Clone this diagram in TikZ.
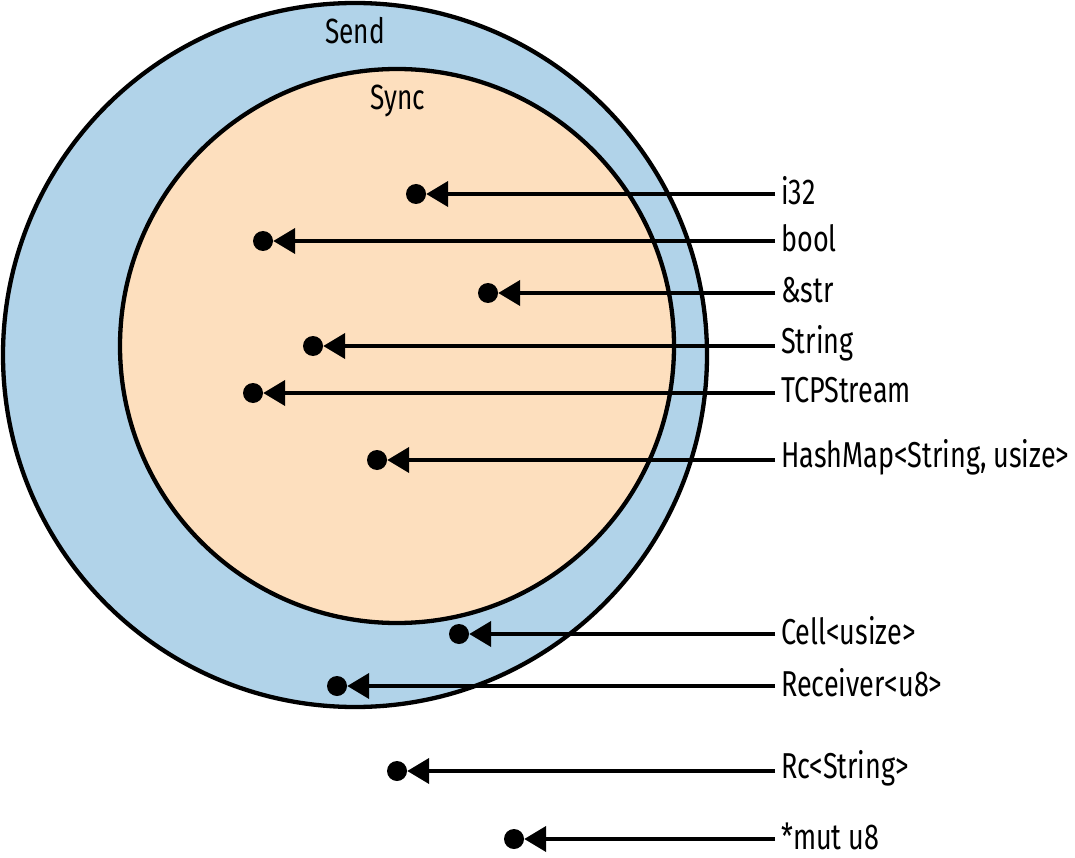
\documentclass[tikz,border=0pt]{standalone}
\usepackage{fontspec}
\setmainfont{Fira Sans}[FakeStretch=0.75]
\usetikzlibrary{arrows.meta}
\definecolor{sendblue}{RGB}{177,211,233}
\definecolor{syncpeach}{RGB}{253,223,190}
\tikzset{
  ring/.style={draw=black, line width=4.3pt},
  dot/.style={circle, fill=black, minimum size=20pt, inner sep=0pt},
  lbl/.style={anchor=west, inner xsep=6pt, inner ysep=0pt, font=\fontsize{36}{40}\selectfont},
  ttl/.style={inner sep=0pt, font=\fontsize{35}{40}\selectfont},
  arr/.style={line width=4.2pt, -{Triangle[length=22pt,width=25pt]}}
}
\begin{document}
\begin{tikzpicture}[x=1pt,y=-1pt]
\useasboundingbox (0,0) rectangle (1075,858);
\fill[white] (0,0) rectangle (1075,858);
\draw[ring, fill=sendblue] (355,355) circle[radius=352];
\draw[ring, fill=syncpeach] (397,346) circle[radius=277];
\node[ttl] (send) at (355,31) {Send};
\node[ttl] (sync) at (398,101) {Sync};
% dots
\node[dot] (d1) at (416,194) {};
\node[dot] (d2) at (263,241) {};
\node[dot] (d3) at (488,293) {};
\node[dot] (d4) at (313,346) {};
\node[dot] (d5) at (253,393) {};
\node[dot] (d6) at (377,460) {};
\node[dot] (d7) at (459,634) {};
\node[dot] (d8) at (337,686) {};
\node[dot] (d9) at (397,771) {};
\node[dot] (d10) at (514,839) {};
% labels
\node[lbl] (l1) at (775,191) {i32};
\node[lbl] (l2) at (775,238) {bool};
\node[lbl] (l3) at (775,290) {\&str};
\node[lbl] (l4) at (775,343) {String};
\node[lbl] (l5) at (775,390) {TCPStream};
\node[lbl] (l6) at (775,457) {HashMap<String, usize>};
\node[lbl] (l7) at (775,631) {Cell<usize>};
\node[lbl] (l8) at (775,683) {Receiver<u8>};
\node[lbl] (l9) at (775,768) {Rc<String>};
\node[lbl] (l10) at (775,836) {*mut u8};
% arrows
\foreach \i/\y in {1/194,2/241,3/293,4/346,5/393,6/460,7/634,8/686,9/771,10/839}{
  \draw[arr] (l\i.west |- 0,\y) -- (d\i.east);
}
\end{tikzpicture}
\end{document}
